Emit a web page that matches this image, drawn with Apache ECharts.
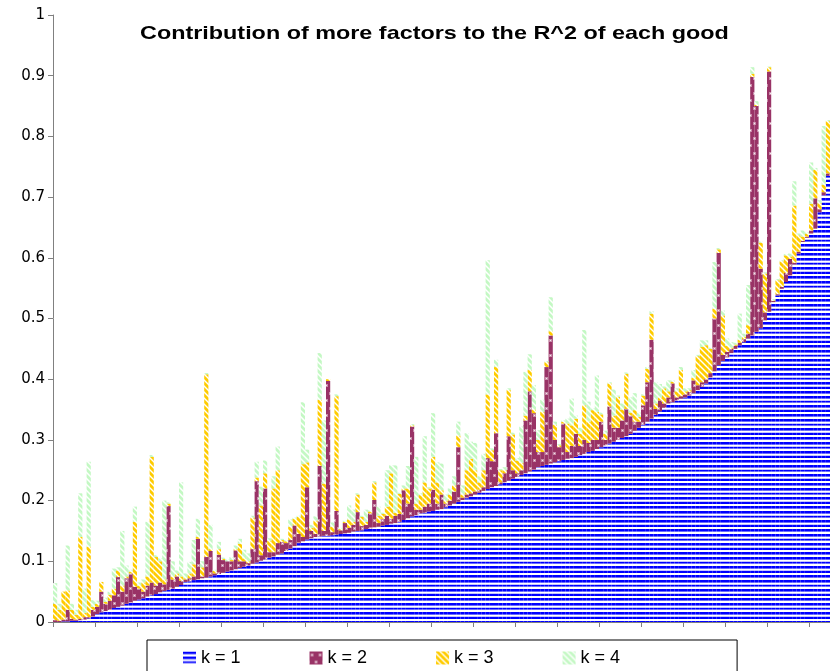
<!DOCTYPE html>
<html>
<head>
<meta charset="utf-8">
<script src="https://cdn.jsdelivr.net/npm/echarts@6/dist/echarts.min.js"></script>
<style>
html, body { margin: 0; padding: 0; background: #fff; }
#main { width: 830px; height: 671px; }
</style>
</head>
<body>
<div id="main"></div>
<script>
// goods, sorted by the R^2 of the first factor
var goods = [];
for (var n = 1; n <= 185; n++) goods.push(String(n));

// R^2 with one factor
var k1 = [
  0.000,0.000,0.001,0.001,0.002,0.002,0.003,0.004,0.006,0.009,
  0.013,0.016,0.018,0.020,0.023,0.025,0.027,0.030,0.032,0.035,
  0.037,0.039,0.042,0.044,0.046,0.049,0.051,0.053,0.055,0.058,
  0.061,0.066,0.067,0.069,0.070,0.072,0.073,0.075,0.077,0.079,
  0.081,0.083,0.085,0.087,0.089,0.091,0.093,0.096,0.098,0.101,
  0.103,0.106,0.108,0.111,0.113,0.117,0.121,0.125,0.130,0.133,
  0.136,0.138,0.140,0.141,0.142,0.142,0.143,0.144,0.145,0.146,
  0.147,0.149,0.150,0.151,0.153,0.154,0.156,0.157,0.159,0.160,
  0.162,0.163,0.165,0.168,0.171,0.174,0.176,0.179,0.180,0.182,
  0.183,0.185,0.186,0.189,0.192,0.195,0.198,0.201,0.204,0.207,
  0.210,0.213,0.216,0.219,0.222,0.224,0.227,0.230,0.233,0.236,
  0.239,0.242,0.245,0.248,0.251,0.255,0.257,0.259,0.261,0.263,
  0.265,0.267,0.269,0.270,0.272,0.275,0.277,0.280,0.282,0.285,
  0.288,0.291,0.294,0.297,0.300,0.303,0.306,0.310,0.315,0.320,
  0.325,0.330,0.335,0.341,0.347,0.353,0.360,0.362,0.365,0.368,
  0.370,0.373,0.377,0.382,0.387,0.393,0.403,0.413,0.423,0.430,
  0.436,0.443,0.450,0.456,0.461,0.467,0.472,0.478,0.484,0.497,
  0.511,0.527,0.538,0.549,0.560,0.571,0.589,0.607,0.626,0.633,
  0.640,0.648,0.675,0.703,0.735
];

// extra R^2 from the second factor
var k2 = [
  0.003,0.002,0.003,0.019,0.003,0.002,0.002,0.004,0.002,0.011,
  0.012,0.034,0.012,0.015,0.021,0.049,0.023,0.042,0.048,0.023,
  0.018,0.011,0.018,0.021,0.014,0.016,0.011,0.138,0.015,0.017,
  0.007,0.004,0.005,0.006,0.067,0.003,0.034,0.042,0.003,0.032,
  0.021,0.017,0.015,0.031,0.011,0.009,0.004,0.024,0.134,0.009,
  0.117,0.009,0.007,0.019,0.019,0.013,0.014,0.034,0.015,0.007,
  0.086,0.012,0.005,0.116,0.008,0.255,0.005,0.039,0.006,0.017,
  0.008,0.011,0.031,0.007,0.007,0.025,0.045,0.006,0.011,0.015,
  0.008,0.012,0.013,0.049,0.024,0.148,0.009,0.006,0.010,0.013,
  0.035,0.010,0.024,0.006,0.008,0.020,0.090,0.004,0.006,0.005,
  0.005,0.005,0.006,0.051,0.043,0.087,0.003,0.015,0.073,0.014,
  0.006,0.008,0.087,0.132,0.093,0.025,0.023,0.161,0.211,0.037,
  0.023,0.060,0.011,0.020,0.038,0.015,0.023,0.015,0.018,0.015,
  0.042,0.009,0.061,0.023,0.020,0.029,0.045,0.030,0.015,0.010,
  0.032,0.065,0.130,0.010,0.018,0.007,0.010,0.031,0.005,0.004,
  0.005,0.006,0.021,0.008,0.008,0.007,0.007,0.087,0.185,0.010,
  0.009,0.007,0.005,0.004,0.005,0.008,0.426,0.372,0.098,0.013,
  0.396,0.002,0.002,0.003,0.015,0.027,0.003,0.003,0.002,0.002,
  0.005,0.050,0.005,0.005,0.004
];

// extra R^2 from the third factor
var k3 = [
  0.027,0.018,0.046,0.032,0.015,0.008,0.135,0.007,0.116,0.005,
  0.005,0.016,0.003,0.010,0.011,0.011,0.010,0.003,0.003,0.107,
  0.005,0.015,0.015,0.207,0.047,0.035,0.008,0.004,0.005,0.005,
  0.007,0.002,0.008,0.020,0.003,0.015,0.301,0.003,0.004,0.009,
  0.002,0.000,0.002,0.002,0.029,0.005,0.003,0.052,0.006,0.082,
  0.025,0.019,0.105,0.120,0.003,0.003,0.022,0.011,0.028,0.120,
  0.041,0.005,0.022,0.109,0.078,0.003,0.009,0.189,0.002,0.002,
  0.014,0.005,0.029,0.015,0.005,0.003,0.029,0.012,0.008,0.015,
  0.075,0.005,0.033,0.003,0.025,0.002,0.010,0.024,0.040,0.025,
  0.054,0.035,0.007,0.005,0.010,0.010,0.019,0.005,0.040,0.057,
  0.035,0.012,0.028,0.105,0.018,0.109,0.020,0.005,0.076,0.059,
  0.021,0.012,0.008,0.035,0.006,0.020,0.066,0.008,0.007,0.025,
  0.003,0.003,0.047,0.034,0.025,0.020,0.057,0.035,0.049,0.046,
  0.012,0.010,0.038,0.020,0.051,0.018,0.058,0.005,0.019,0.008,
  0.016,0.022,0.043,0.009,0.005,0.025,0.010,0.003,0.010,0.043,
  0.005,0.003,0.004,0.048,0.058,0.056,0.040,0.016,0.006,0.065,
  0.010,0.002,0.002,0.005,0.004,0.014,0.005,0.002,0.043,0.064,
  0.007,0.001,0.023,0.042,0.029,0.004,0.094,0.027,0.007,0.005,
  0.044,0.047,0.010,0.012,0.086
];

// extra R^2 from the fourth factor
var k4 = [
  0.034,0.010,0.000,0.074,0.010,0.008,0.072,0.040,0.140,0.011,
  0.005,0.000,0.007,0.005,0.033,0.005,0.090,0.018,0.003,0.025,
  0.005,0.005,0.090,0.003,0.003,0.005,0.130,0.002,0.025,0.005,
  0.155,0.008,0.019,0.040,0.030,0.010,0.002,0.040,0.002,0.012,
  0.002,0.003,0.005,0.006,0.008,0.014,0.013,0.003,0.026,0.031,
  0.021,0.004,0.020,0.039,0.002,0.002,0.012,0.002,0.002,0.102,
  0.021,0.005,0.007,0.077,0.104,0.000,0.007,0.003,0.002,0.002,
  0.023,0.020,0.002,0.002,0.020,0.002,0.002,0.015,0.002,0.060,
  0.013,0.078,0.002,0.005,0.037,0.002,0.077,0.003,0.076,0.002,
  0.072,0.033,0.044,0.010,0.010,0.015,0.023,0.015,0.061,0.028,
  0.045,0.010,0.027,0.221,0.003,0.012,0.002,0.005,0.003,0.003,
  0.004,0.060,0.072,0.026,0.040,0.016,0.020,0.002,0.056,0.005,
  0.002,0.002,0.008,0.044,0.005,0.010,0.124,0.033,0.003,0.060,
  0.003,0.005,0.002,0.043,0.002,0.010,0.002,0.025,0.028,0.007,
  0.002,0.003,0.004,0.035,0.022,0.003,0.018,0.002,0.005,0.005,
  0.005,0.003,0.013,0.002,0.011,0.008,0.002,0.077,0.002,0.008,
  0.012,0.009,0.003,0.043,0.005,0.066,0.011,0.006,0.002,0.002,
  0.001,0.002,0.002,0.002,0.002,0.005,0.040,0.003,0.010,0.002,
  0.068,0.003,0.005,0.097,0.002
];

var seriesNames = ['k = 1', 'k = 2', 'k = 3', 'k = 4'];
var chartTitle = 'Contribution of more factors to the R^2 of each good';

// small canvas tiles for the Excel-like fill patterns
function tile(w, h, draw) {
  var c = document.createElement('canvas');
  c.width = w;
  c.height = h;
  var ctx = c.getContext('2d');
  ctx.fillStyle = '#ffffff';
  ctx.fillRect(0, 0, w, h);
  draw(ctx, w, h);
  return { image: c, repeat: 'repeat' };
}

// horizontal stripes, period about 4.6px
var bluePattern = tile(4, 23, function (ctx, w, h) {
  for (var r = 0; r < h; r++) {
    var p = r % 4.6;
    if (p < 1.8) ctx.fillStyle = '#0000ff';
    else if (p < 2.6) ctx.fillStyle = '#6a6aff';
    else if (p < 4.2) ctx.fillStyle = '#ffffff';
    else ctx.fillStyle = '#c4c4ff';
    ctx.fillRect(0, r, w, 1);
  }
});

// dark plum with sparse light dots
var plumPattern = tile(8, 15, function (ctx, w, h) {
  ctx.fillStyle = '#993366';
  ctx.fillRect(0, 0, w, h);
  ctx.fillStyle = '#c88aa8';
  ctx.fillRect(1, 2, 3, 3);
  ctx.fillRect(5, 9, 3, 3);
  ctx.fillStyle = '#f4e4ec';
  ctx.fillRect(2, 3, 1, 1);
  ctx.fillRect(6, 10, 1, 1);
});

// diagonal stripes, top-left to bottom-right
function diagonal(color, soft) {
  return tile(6, 6, function (ctx, w, h) {
    for (var y = 0; y < h; y++) {
      for (var x = 0; x < w; x++) {
        var d = ((x - y) % 6 + 6) % 6;
        if (d < 3) ctx.fillStyle = color;
        else if (d == 3 || d == 5) ctx.fillStyle = soft;
        else continue;
        ctx.fillRect(x, y, 1, 1);
      }
    }
  });
}
var goldPattern = diagonal('#ffcc00', '#ffe680');
var mintPattern = diagonal('#c4f8c4', '#e4fde4');

var fills = [bluePattern, plumPattern, goldPattern, mintPattern];
var values = [k1, k2, k3, k4];

var chart = echarts.init(document.getElementById('main'), null, { renderer: 'canvas' });

var series = [];
for (var s = 0; s < 4; s++) {
  series.push({
    name: seriesNames[s],
    type: 'bar',
    stack: 'r2',
    data: values[s],
    barCategoryGap: '0%',
    itemStyle: { color: fills[s], borderWidth: 0 },
    emphasis: { disabled: true },
    silent: true
  });
}

var option = {
  animation: false,
  backgroundColor: '#ffffff',
  // the original title is drawn wider than a plain bold face, so it is stretched
  graphic: [{
    type: 'text',
    x: 140,
    y: 24,
    scaleX: 1.23,
    silent: true,
    style: {
      text: chartTitle,
      font: 'bold 19px Arial, "Liberation Sans", sans-serif',
      fill: '#000000',
      align: 'left',
      verticalAlign: 'top'
    }
  }],
  legend: {
    data: seriesNames,
    left: 147,
    top: 640,
    icon: 'rect',
    itemWidth: 13,
    itemHeight: 13,
    itemGap: 69,
    padding: [9, 117, 30, 36],
    borderColor: '#000000',
    borderWidth: 1,
    borderRadius: 0,
    textStyle: {
      fontFamily: 'Arial, "Liberation Sans", sans-serif',
      fontSize: 18,
      color: '#000000'
    }
  },
  grid: {
    left: 53,
    right: 0,
    top: 15,
    bottom: 49,
    containLabel: false
  },
  xAxis: {
    type: 'category',
    data: goods,
    boundaryGap: true,
    axisLine: { lineStyle: { color: '#808080', width: 1 } },
    axisTick: { show: true, interval: 9, length: 5, lineStyle: { color: '#808080' } },
    axisLabel: { show: false },
    splitLine: { show: false }
  },
  yAxis: {
    type: 'value',
    min: 0,
    max: 1,
    interval: 0.1,
    axisLine: { show: true, lineStyle: { color: '#808080', width: 1 } },
    axisTick: { show: true, length: 5, lineStyle: { color: '#808080' } },
    axisLabel: {
      margin: 8,
      fontFamily: '"DejaVu Sans", sans-serif',
      fontSize: 15,
      color: '#000000'
    },
    splitLine: { show: false }
  },
  series: series
};

chart.setOption(option);
</script>
</body>
</html>
